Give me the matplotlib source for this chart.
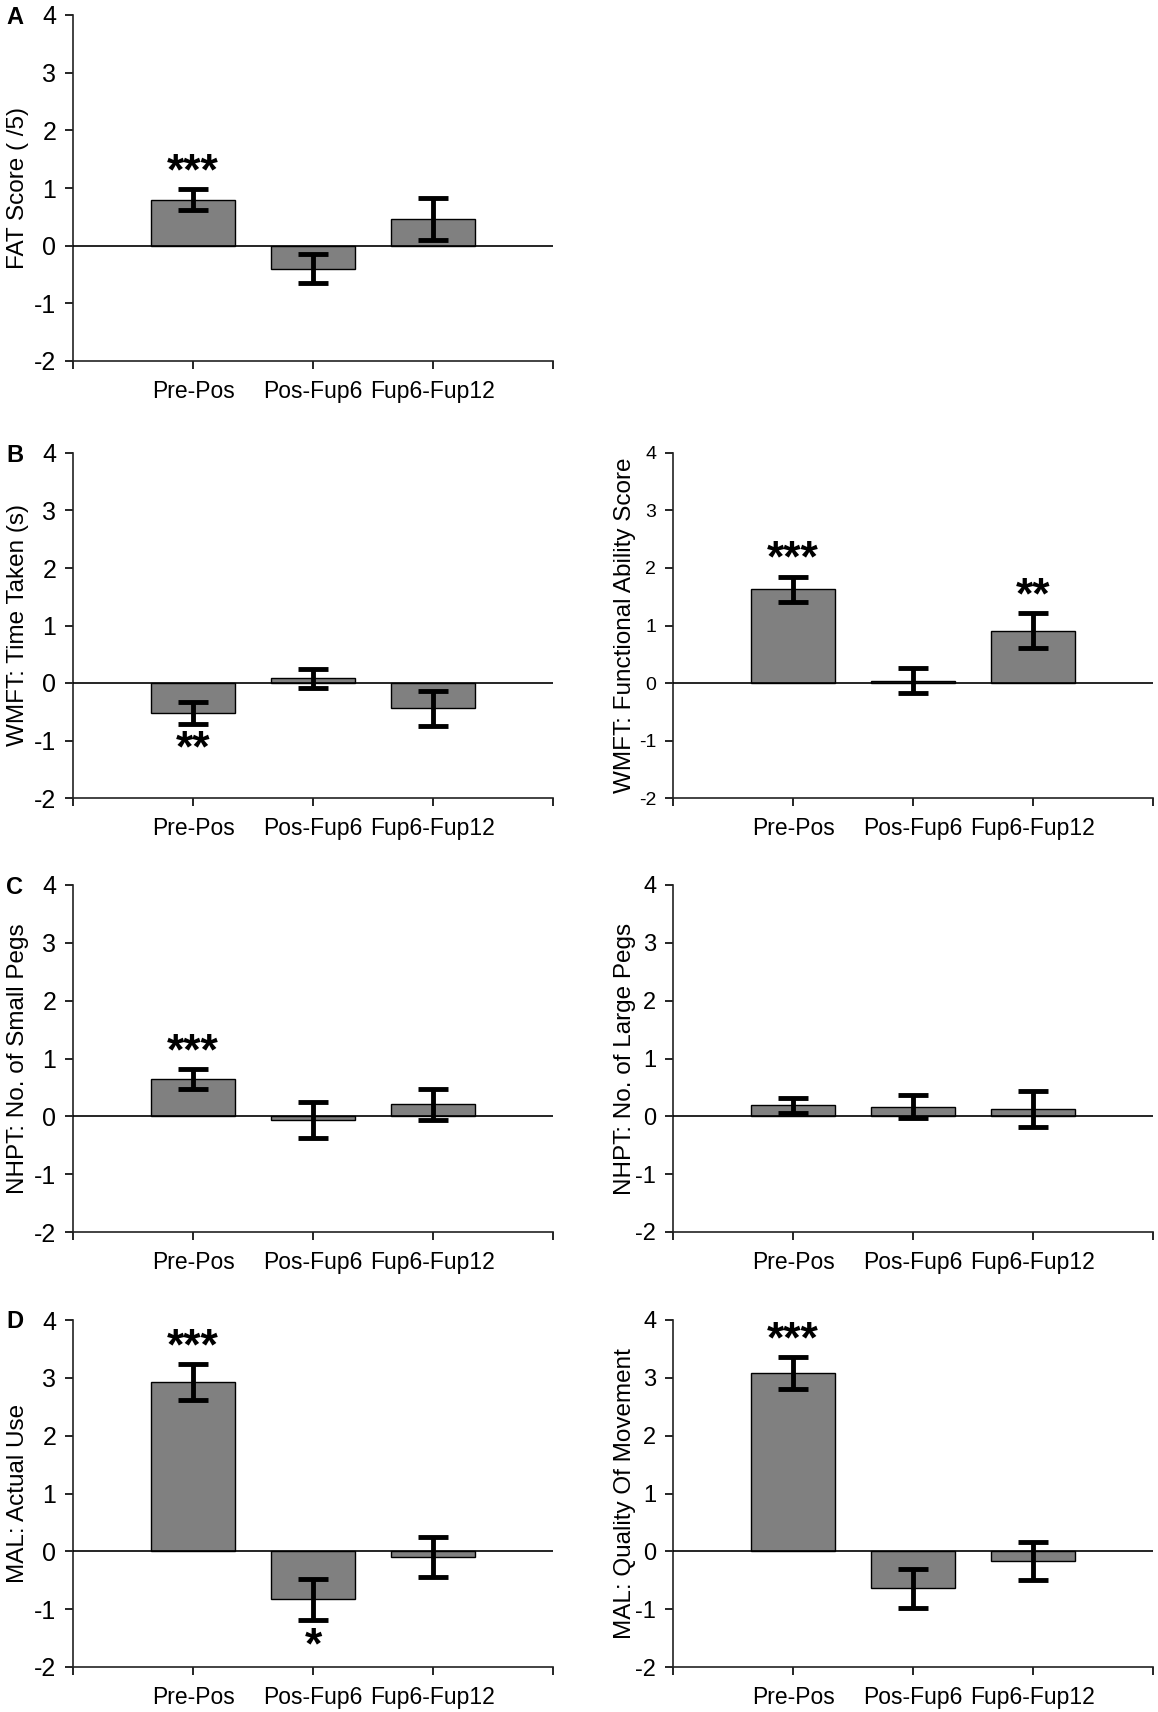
import matplotlib
matplotlib.use("Agg")
import matplotlib.pyplot as plt

plt.rcParams['font.family'] = ['Liberation Sans', 'DejaVu Sans']
plt.rcParams['axes.unicode_minus'] = False

categories = ["Pre-Pos", "Pos-Fup6", "Fup6-Fup12"]

fat_mean = [0.80, -0.40, 0.46]
fat_err = [0.18, 0.25, 0.37]
fat_sig = ["***", "", ""]

wmft_time_mean = [-0.52, 0.08, -0.44]
wmft_time_err = [0.19, 0.16, 0.30]
wmft_time_sig = ["**", "", ""]

wmft_fas_mean = [1.63, 0.04, 0.91]
wmft_fas_err = [0.22, 0.22, 0.30]
wmft_fas_sig = ["***", "", "**"]

nhpt_small_mean = [0.65, -0.06, 0.21]
nhpt_small_err = [0.17, 0.31, 0.265]
nhpt_small_sig = ["***", "", ""]

nhpt_large_mean = [0.19, 0.17, 0.13]
nhpt_large_err = [0.13, 0.20, 0.31]
nhpt_large_sig = ["", "", ""]

mal_au_mean = [2.93, -0.83, -0.10]
mal_au_err = [0.31, 0.36, 0.35]
mal_au_sig = ["***", "*", ""]

mal_qom_mean = [3.08, -0.64, -0.16]
mal_qom_err = [0.28, 0.34, 0.33]
mal_qom_sig = ["***", "", ""]

W, H = 1158, 1712
fig = plt.figure(figsize=(W / 100, H / 100), dpi=100)


def make_axes(left, top, right, bottom):
    return fig.add_axes([left / W, 1 - bottom / H, (right - left) / W, (bottom - top) / H])


def draw_panel(ax, means, errs, sigs, ylabel, tick_size=18, label_x=-0.092):
    x = [1, 2, 3]
    ax.bar(x, means, width=0.7, color="#808080", edgecolor="black", linewidth=1.0, zorder=2)
    ax.errorbar(x, means, yerr=errs, fmt="none", ecolor="black", elinewidth=3.5,
                capsize=11, capthick=3.5, zorder=3)
    ax.axhline(0, color="black", linewidth=1.2, zorder=4)
    for xi, m, e, s in zip(x, means, errs, sigs):
        if not s:
            continue
        if m >= 0:
            ax.text(xi, m + e - 0.07, s, ha="center", va="bottom", fontsize=32,
                    fontweight="bold")
        else:
            ax.text(xi, m - e - 0.1, s, ha="center", va="top", fontsize=32,
                    fontweight="bold")
    ax.set_xlim(0, 4)
    ax.set_ylim(-2, 4)
    ax.set_yticks(range(-2, 5))
    ax.set_xticks([0, 1, 2, 3, 4])
    ax.set_xticklabels([""] + categories + [""])
    ax.tick_params(axis="x", labelsize=16.5, length=6, width=1.2, pad=8, direction="out")
    ax.tick_params(axis="y", labelsize=tick_size, length=6, width=1.2, pad=6, direction="out")
    for side in ["top", "right"]:
        ax.spines[side].set_visible(False)
    for side in ["left", "bottom"]:
        ax.spines[side].set_linewidth(1.2)
        ax.spines[side].set_color("#222222")
    ax.set_ylabel(ylabel, fontsize=17.5)
    ax.yaxis.set_label_coords(label_x, 0.5)


rows = [(15, 361), (453, 798), (885, 1232), (1320, 1667)]
left_x = (73, 553)
right_x = (673, 1153)

ax_a = make_axes(left_x[0], rows[0][0], left_x[1], rows[0][1])
draw_panel(ax_a, fat_mean, fat_err, fat_sig, "FAT Score ( /5)")

ax_b1 = make_axes(left_x[0], rows[1][0], left_x[1], rows[1][1])
draw_panel(ax_b1, wmft_time_mean, wmft_time_err, wmft_time_sig, "WMFT: Time Taken (s)")

ax_b2 = make_axes(right_x[0], rows[1][0], right_x[1], rows[1][1])
draw_panel(ax_b2, wmft_fas_mean, wmft_fas_err, wmft_fas_sig,
           "WMFT: Functional Ability Score", tick_size=14, label_x=-0.078)

ax_c1 = make_axes(left_x[0], rows[2][0], left_x[1], rows[2][1])
draw_panel(ax_c1, nhpt_small_mean, nhpt_small_err, nhpt_small_sig, "NHPT: No. of Small Pegs")

ax_c2 = make_axes(right_x[0], rows[2][0], right_x[1], rows[2][1])
draw_panel(ax_c2, nhpt_large_mean, nhpt_large_err, nhpt_large_sig, "NHPT: No. of Large Pegs",
           tick_size=17, label_x=-0.078)

ax_d1 = make_axes(left_x[0], rows[3][0], left_x[1], rows[3][1])
draw_panel(ax_d1, mal_au_mean, mal_au_err, mal_au_sig, "MAL: Actual Use")

ax_d2 = make_axes(right_x[0], rows[3][0], right_x[1], rows[3][1])
draw_panel(ax_d2, mal_qom_mean, mal_qom_err, mal_qom_sig, "MAL: Quality Of Movement",
           tick_size=17, label_x=-0.078)

for letter, (top, _) in zip("ABCD", rows):
    fig.text(6 / W, 1 - (top + 2) / H, letter, fontsize=17, fontweight="bold",
             ha="left", va="center")

fig.savefig("out.png", dpi=100)
